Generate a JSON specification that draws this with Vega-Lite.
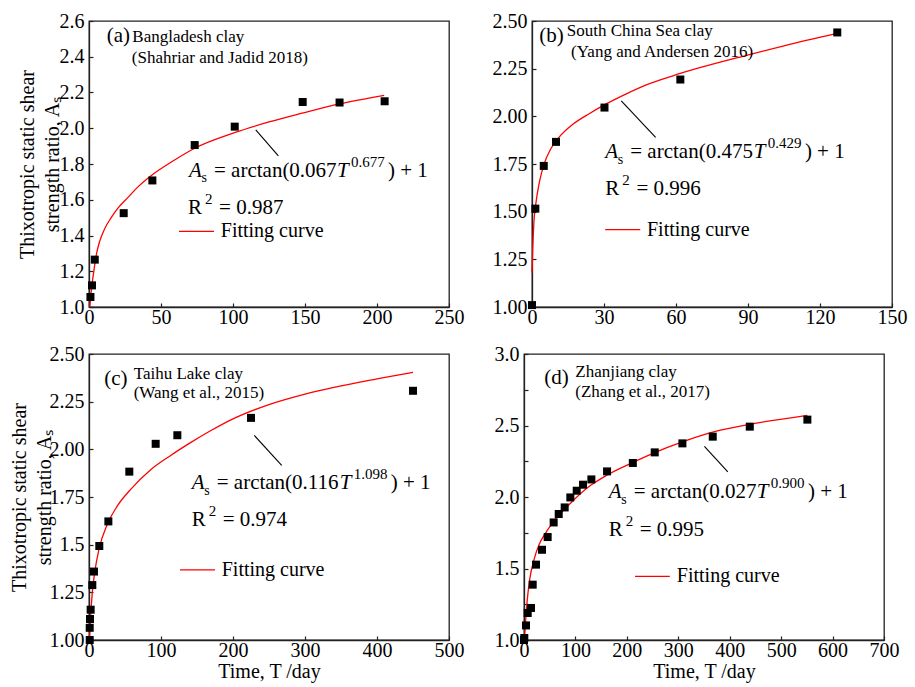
{
  "$schema": "https://vega.github.io/schema/vega-lite/v6.json",
  "padding": {"left": 8, "top": 10, "right": 5, "bottom": 5},
  "background": "white",
  "config": {
    "font": "Liberation Serif",
    "view": {"stroke": "#222222", "strokeWidth": 1.3},
    "line": {"interpolate": "monotone"},
    "axis": {
      "grid": false, "domainColor": "#222222", "domainWidth": 1.3,
      "tickColor": "#222222", "tickWidth": 1.2, "tickSize": -4,
      "labelFont": "Liberation Serif", "labelFontSize": 20, "labelColor": "black",
      "labelFlush": false, "labelOverlap": false,
      "titleFont": "Liberation Serif", "titleFontSize": 20, "titleFontWeight": "normal", "titleColor": "black",
      "titlePadding": -3, "titleLineHeight": 25
    },
    "axisX": {"labelPadding": 4},
    "axisY": {"labelPadding": 9}
  },
  "datasets": {
    "pts": [
      {"panel": "a", "T": 1.0, "A": 1.056}, {"panel": "a", "T": 2.1, "A": 1.121}, {"panel": "a", "T": 4.0, "A": 1.265},
      {"panel": "a", "T": 24.1, "A": 1.525}, {"panel": "a", "T": 44, "A": 1.708}, {"panel": "a", "T": 73.4, "A": 1.906},
      {"panel": "a", "T": 101.2, "A": 2.009}, {"panel": "a", "T": 148.4, "A": 2.147}, {"panel": "a", "T": 174, "A": 2.144},
      {"panel": "a", "T": 205.3, "A": 2.151},
      {"panel": "b", "T": 0, "A": 1.01}, {"panel": "b", "T": 1.4, "A": 1.516}, {"panel": "b", "T": 4.9, "A": 1.74},
      {"panel": "b", "T": 10, "A": 1.866}, {"panel": "b", "T": 30.2, "A": 2.046}, {"panel": "b", "T": 61.8, "A": 2.193},
      {"panel": "b", "T": 127.2, "A": 2.44},
      {"panel": "c", "T": 1, "A": 1.0}, {"panel": "c", "T": 1, "A": 1.064}, {"panel": "c", "T": 1.4, "A": 1.11},
      {"panel": "c", "T": 2.3, "A": 1.159}, {"panel": "c", "T": 4.6, "A": 1.288}, {"panel": "c", "T": 6.9, "A": 1.359},
      {"panel": "c", "T": 14.3, "A": 1.493}, {"panel": "c", "T": 26.9, "A": 1.622}, {"panel": "c", "T": 56, "A": 1.883},
      {"panel": "c", "T": 92.6, "A": 2.029}, {"panel": "c", "T": 122.7, "A": 2.074}, {"panel": "c", "T": 225, "A": 2.165},
      {"panel": "c", "T": 450, "A": 2.307},
      {"panel": "d", "T": 0, "A": 1.0}, {"panel": "d", "T": 0.6, "A": 1.014}, {"panel": "d", "T": 3.9, "A": 1.102},
      {"panel": "d", "T": 7.2, "A": 1.189}, {"panel": "d", "T": 13.6, "A": 1.224}, {"panel": "d", "T": 16.9, "A": 1.387},
      {"panel": "d", "T": 23.3, "A": 1.527}, {"panel": "d", "T": 35, "A": 1.631}, {"panel": "d", "T": 46, "A": 1.72},
      {"panel": "d", "T": 57.7, "A": 1.822}, {"panel": "d", "T": 67.5, "A": 1.881}, {"panel": "d", "T": 79.1, "A": 1.927},
      {"panel": "d", "T": 90.1, "A": 1.997}, {"panel": "d", "T": 102.5, "A": 2.044}, {"panel": "d", "T": 114.8, "A": 2.086},
      {"panel": "d", "T": 131, "A": 2.123}, {"panel": "d", "T": 161.5, "A": 2.179}, {"panel": "d", "T": 211.6, "A": 2.238},
      {"panel": "d", "T": 254.2, "A": 2.312}, {"panel": "d", "T": 308, "A": 2.375}, {"panel": "d", "T": 367, "A": 2.422},
      {"panel": "d", "T": 439, "A": 2.492}, {"panel": "d", "T": 551, "A": 2.541}
    ],
    "fit": [
      {"panel": "a", "T": 0.5, "A": 1.0}, {"panel": "a", "T": 1.2, "A": 1.06}, {"panel": "a", "T": 2.1, "A": 1.125},
      {"panel": "a", "T": 3.5, "A": 1.209}, {"panel": "a", "T": 5.1, "A": 1.293}, {"panel": "a", "T": 7.4, "A": 1.367},
      {"panel": "a", "T": 10.9, "A": 1.438}, {"panel": "a", "T": 15.5, "A": 1.501}, {"panel": "a", "T": 20.1, "A": 1.553},
      {"panel": "a", "T": 27.1, "A": 1.613}, {"panel": "a", "T": 34, "A": 1.672}, {"panel": "a", "T": 44, "A": 1.74},
      {"panel": "a", "T": 58, "A": 1.815}, {"panel": "a", "T": 73.4, "A": 1.888}, {"panel": "a", "T": 101, "A": 1.975},
      {"panel": "a", "T": 125, "A": 2.035}, {"panel": "a", "T": 148, "A": 2.084}, {"panel": "a", "T": 174, "A": 2.136},
      {"panel": "a", "T": 205, "A": 2.184},
      {"panel": "b", "T": 0, "A": 1.18}, {"panel": "b", "T": 0.3, "A": 1.306}, {"panel": "b", "T": 0.8, "A": 1.446},
      {"panel": "b", "T": 1.7, "A": 1.551}, {"panel": "b", "T": 3.1, "A": 1.656}, {"panel": "b", "T": 5.1, "A": 1.752},
      {"panel": "b", "T": 7.9, "A": 1.831}, {"panel": "b", "T": 11.4, "A": 1.892}, {"panel": "b", "T": 17, "A": 1.958},
      {"panel": "b", "T": 24, "A": 2.015}, {"panel": "b", "T": 30.9, "A": 2.065}, {"panel": "b", "T": 39.3, "A": 2.118},
      {"panel": "b", "T": 47.6, "A": 2.165}, {"panel": "b", "T": 61.8, "A": 2.225}, {"panel": "b", "T": 89.4, "A": 2.32},
      {"panel": "b", "T": 105, "A": 2.37}, {"panel": "b", "T": 127.2, "A": 2.435},
      {"panel": "c", "T": 0.5, "A": 1.0}, {"panel": "c", "T": 1, "A": 1.03}, {"panel": "c", "T": 2.3, "A": 1.127},
      {"panel": "c", "T": 4.6, "A": 1.25}, {"panel": "c", "T": 7.9, "A": 1.354}, {"panel": "c", "T": 13.9, "A": 1.476},
      {"panel": "c", "T": 25.5, "A": 1.607}, {"panel": "c", "T": 39.4, "A": 1.703}, {"panel": "c", "T": 57.9, "A": 1.79},
      {"panel": "c", "T": 85.7, "A": 1.893}, {"panel": "c", "T": 113.5, "A": 1.968}, {"panel": "c", "T": 141, "A": 2.035},
      {"panel": "c", "T": 170, "A": 2.1}, {"panel": "c", "T": 200, "A": 2.16}, {"panel": "c", "T": 250, "A": 2.235},
      {"panel": "c", "T": 300, "A": 2.29}, {"panel": "c", "T": 400, "A": 2.37}, {"panel": "c", "T": 450, "A": 2.404},
      {"panel": "d", "T": 0.6, "A": 1.0}, {"panel": "d", "T": 3.3, "A": 1.142}, {"panel": "d", "T": 6.4, "A": 1.282},
      {"panel": "d", "T": 11, "A": 1.422}, {"panel": "d", "T": 19.5, "A": 1.562}, {"panel": "d", "T": 29.2, "A": 1.666},
      {"panel": "d", "T": 42, "A": 1.748}, {"panel": "d", "T": 61.6, "A": 1.845}, {"panel": "d", "T": 90, "A": 1.955},
      {"panel": "d", "T": 131, "A": 2.085}, {"panel": "d", "T": 160, "A": 2.15}, {"panel": "d", "T": 211, "A": 2.24},
      {"panel": "d", "T": 254, "A": 2.31}, {"panel": "d", "T": 308, "A": 2.385}, {"panel": "d", "T": 374, "A": 2.46},
      {"panel": "d", "T": 439, "A": 2.508}, {"panel": "d", "T": 551, "A": 2.571}
    ],
    "lead": [
      {"panel": "a", "T": 115.8, "A": 1.991, "T2": 131.5, "A2": 1.846},
      {"panel": "b", "T": 37.2, "A": 2.081, "T2": 51.5, "A2": 1.889},
      {"panel": "c", "T": 229.6, "A": 2.073, "T2": 267.6, "A2": 1.916},
      {"panel": "d", "T": 350.8, "A": 2.354, "T2": 396.3, "A2": 2.175}
    ],
    "legl": [
      {"panel": "a", "T": 62.5, "T2": 86.8, "A": 1.423},
      {"panel": "b", "T": 30.5, "T2": 45.1, "A": 1.406},
      {"panel": "c", "T": 126.4, "T2": 175, "A": 1.368},
      {"panel": "d", "T": 216, "T2": 283.5, "A": 1.445}
    ],
    "txt": [
      {"panel": "a", "role": "reg", "T": 12.3, "A": 2.481, "label": "(a)"},
      {"panel": "a", "role": "src", "T": 30.1, "A": 2.48, "label": "Bangladesh clay"},
      {"panel": "a", "role": "src", "T": 29.7, "A": 2.363, "label": "(Shahriar and Jadid 2018)"},
      {"panel": "a", "role": "it", "T": 69.4, "A": 1.73, "label": "A"},
      {"panel": "a", "role": "sub", "T": 78.1, "A": 1.697, "label": "s"},
      {"panel": "a", "role": "reg", "T": 86.8, "A": 1.73, "label": "= arctan(0.067"},
      {"panel": "a", "role": "it", "T": 172.2, "A": 1.73, "label": "T"},
      {"panel": "a", "role": "sup", "T": 181.9, "A": 1.786, "label": "0.677"},
      {"panel": "a", "role": "reg", "T": 207.6, "A": 1.73, "label": ") + 1"},
      {"panel": "a", "role": "reg", "T": 68.75, "A": 1.522, "label": "R"},
      {"panel": "a", "role": "sup", "T": 80.6, "A": 1.578, "label": "2"},
      {"panel": "a", "role": "reg", "T": 90.3, "A": 1.522, "label": "= 0.987"},
      {"panel": "a", "role": "leg", "T": 91.5, "A": 1.423, "label": "Fitting curve"},
      {"panel": "b", "role": "reg", "T": 3.05, "A": 2.388, "label": "(b)"},
      {"panel": "b", "role": "src", "T": 14.5, "A": 2.421, "label": "South China Sea clay"},
      {"panel": "b", "role": "src", "T": 16.3, "A": 2.312, "label": "(Yang and Andersen 2016)"},
      {"panel": "b", "role": "it", "T": 30.5, "A": 1.782, "label": "A"},
      {"panel": "b", "role": "sub", "T": 35.7, "A": 1.751, "label": "s"},
      {"panel": "b", "role": "reg", "T": 40.95, "A": 1.782, "label": "= arctan(0.475"},
      {"panel": "b", "role": "it", "T": 92.35, "A": 1.782, "label": "T"},
      {"panel": "b", "role": "sup", "T": 98.2, "A": 1.835, "label": "0.429"},
      {"panel": "b", "role": "reg", "T": 113.7, "A": 1.782, "label": ") + 1"},
      {"panel": "b", "role": "reg", "T": 30.5, "A": 1.59, "label": "R"},
      {"panel": "b", "role": "sup", "T": 37.6, "A": 1.642, "label": "2"},
      {"panel": "b", "role": "reg", "T": 43.5, "A": 1.59, "label": "= 0.996"},
      {"panel": "b", "role": "leg", "T": 47.9, "A": 1.406, "label": "Fitting curve"},
      {"panel": "c", "role": "reg", "T": 21.25, "A": 2.336, "label": "(c)"},
      {"panel": "c", "role": "src", "T": 62.1, "A": 2.371, "label": "Taihu Lake clay"},
      {"panel": "c", "role": "src", "T": 62.1, "A": 2.27, "label": "(Wang et al., 2015)"},
      {"panel": "c", "role": "it", "T": 142.6, "A": 1.794, "label": "A"},
      {"panel": "c", "role": "sub", "T": 160, "A": 1.762, "label": "s"},
      {"panel": "c", "role": "reg", "T": 177.4, "A": 1.794, "label": "= arctan(0.116"},
      {"panel": "c", "role": "it", "T": 348.2, "A": 1.794, "label": "T"},
      {"panel": "c", "role": "sup", "T": 367.6, "A": 1.846, "label": "1.098"},
      {"panel": "c", "role": "reg", "T": 419.0, "A": 1.794, "label": ") + 1"},
      {"panel": "c", "role": "reg", "T": 142.6, "A": 1.598, "label": "R"},
      {"panel": "c", "role": "sup", "T": 166.3, "A": 1.65, "label": "2"},
      {"panel": "c", "role": "reg", "T": 185.7, "A": 1.598, "label": "= 0.974"},
      {"panel": "c", "role": "leg", "T": 184.3, "A": 1.368, "label": "Fitting curve"},
      {"panel": "d", "role": "reg", "T": 39.5, "A": 2.792, "label": "(d)"},
      {"panel": "d", "role": "src", "T": 99.8, "A": 2.839, "label": "Zhanjiang clay"},
      {"panel": "d", "role": "src", "T": 99.8, "A": 2.697, "label": "(Zhang et al., 2017)"},
      {"panel": "d", "role": "it", "T": 164.8, "A": 1.993, "label": "A"},
      {"panel": "d", "role": "sub", "T": 189.1, "A": 1.951, "label": "s"},
      {"panel": "d", "role": "reg", "T": 213.4, "A": 1.993, "label": "= arctan(0.027"},
      {"panel": "d", "role": "it", "T": 452.7, "A": 1.993, "label": "T"},
      {"panel": "d", "role": "sup", "T": 480, "A": 2.063, "label": "0.900"},
      {"panel": "d", "role": "reg", "T": 552.0, "A": 1.993, "label": ") + 1"},
      {"panel": "d", "role": "reg", "T": 164.8, "A": 1.729, "label": "R"},
      {"panel": "d", "role": "sup", "T": 197.9, "A": 1.799, "label": "2"},
      {"panel": "d", "role": "reg", "T": 225.1, "A": 1.729, "label": "= 0.995"},
      {"panel": "d", "role": "leg", "T": 297.1, "A": 1.445, "label": "Fitting curve"}
    ]
  },
  "vconcat": [
    {
      "hconcat": [
        {
          "width": 360, "height": 286,
          "encoding": {
            "x": {"field": "T", "type": "quantitative", "scale": {"domain": [0, 250], "nice": false, "zero": false}, "axis": {"values": [0, 50, 100, 150, 200, 250], "title": null}},
            "y": {"field": "A", "type": "quantitative", "scale": {"domain": [1, 2.6], "nice": false, "zero": false}, "axis": {"values": [1, 1.2, 1.4, 1.6, 1.8, 2.0, 2.2, 2.4, 2.6], "format": ".1f", "title": ["Thixotropic static shear", "strength ratio,  Aₛ"]}}
          },
          "layer": [
            {"data": {"name": "fit"}, "transform": [{"filter": "datum.panel == 'a'"}], "mark": {"type": "line", "color": "#ff0000", "strokeWidth": 1.3}},
            {"data": {"name": "pts"}, "transform": [{"filter": "datum.panel == 'a'"}], "mark": {"type": "square", "size": 64, "color": "black", "opacity": 1}},
            {"data": {"name": "lead"}, "transform": [{"filter": "datum.panel == 'a'"}], "mark": {"type": "rule", "color": "black", "strokeWidth": 1.1}, "encoding": {"x2": {"field": "T2"}, "y2": {"field": "A2"}}},
            {"data": {"name": "legl"}, "transform": [{"filter": "datum.panel == 'a'"}], "mark": {"type": "rule", "color": "#ff0000", "strokeWidth": 1.3}, "encoding": {"x2": {"field": "T2"}}},
            {"data": {"name": "txt"}, "transform": [{"filter": "datum.panel == 'a' && datum.role == 'reg'"}], "mark": {"type": "text", "align": "left", "baseline": "alphabetic", "font": "Liberation Serif", "fontSize": 21, "color": "black"}, "encoding": {"text": {"field": "label"}}},
            {"data": {"name": "txt"}, "transform": [{"filter": "datum.panel == 'a' && datum.role == 'src'"}], "mark": {"type": "text", "align": "left", "baseline": "alphabetic", "font": "Liberation Serif", "fontSize": 17, "color": "black"}, "encoding": {"text": {"field": "label"}}},
            {"data": {"name": "txt"}, "transform": [{"filter": "datum.panel == 'a' && datum.role == 'it'"}], "mark": {"type": "text", "align": "left", "baseline": "alphabetic", "font": "Liberation Serif", "fontSize": 21, "fontStyle": "italic", "color": "black"}, "encoding": {"text": {"field": "label"}}},
            {"data": {"name": "txt"}, "transform": [{"filter": "datum.panel == 'a' && datum.role == 'sub'"}], "mark": {"type": "text", "align": "left", "baseline": "alphabetic", "font": "Liberation Serif", "fontSize": 14, "color": "black"}, "encoding": {"text": {"field": "label"}}},
            {"data": {"name": "txt"}, "transform": [{"filter": "datum.panel == 'a' && datum.role == 'sup'"}], "mark": {"type": "text", "align": "left", "baseline": "alphabetic", "font": "Liberation Serif", "fontSize": 15, "color": "black"}, "encoding": {"text": {"field": "label"}}},
            {"data": {"name": "txt"}, "transform": [{"filter": "datum.panel == 'a' && datum.role == 'leg'"}], "mark": {"type": "text", "align": "left", "baseline": "middle", "font": "Liberation Serif", "fontSize": 20, "color": "black"}, "encoding": {"text": {"field": "label"}}}
          ]
        },
        {
          "width": 360, "height": 286,
          "encoding": {
            "x": {"field": "T", "type": "quantitative", "scale": {"domain": [0, 150], "nice": false, "zero": false}, "axis": {"values": [0, 30, 60, 90, 120, 150], "title": null}},
            "y": {"field": "A", "type": "quantitative", "scale": {"domain": [1, 2.5], "nice": false, "zero": false}, "axis": {"values": [1, 1.25, 1.5, 1.75, 2.0, 2.25, 2.5], "format": ".2f", "title": null}}
          },
          "layer": [
            {"data": {"name": "fit"}, "transform": [{"filter": "datum.panel == 'b'"}], "mark": {"type": "line", "color": "#ff0000", "strokeWidth": 1.3}},
            {"data": {"name": "pts"}, "transform": [{"filter": "datum.panel == 'b'"}], "mark": {"type": "square", "size": 64, "color": "black", "opacity": 1}},
            {"data": {"name": "lead"}, "transform": [{"filter": "datum.panel == 'b'"}], "mark": {"type": "rule", "color": "black", "strokeWidth": 1.1}, "encoding": {"x2": {"field": "T2"}, "y2": {"field": "A2"}}},
            {"data": {"name": "legl"}, "transform": [{"filter": "datum.panel == 'b'"}], "mark": {"type": "rule", "color": "#ff0000", "strokeWidth": 1.3}, "encoding": {"x2": {"field": "T2"}}},
            {"data": {"name": "txt"}, "transform": [{"filter": "datum.panel == 'b' && datum.role == 'reg'"}], "mark": {"type": "text", "align": "left", "baseline": "alphabetic", "font": "Liberation Serif", "fontSize": 21, "color": "black"}, "encoding": {"text": {"field": "label"}}},
            {"data": {"name": "txt"}, "transform": [{"filter": "datum.panel == 'b' && datum.role == 'src'"}], "mark": {"type": "text", "align": "left", "baseline": "alphabetic", "font": "Liberation Serif", "fontSize": 17, "color": "black"}, "encoding": {"text": {"field": "label"}}},
            {"data": {"name": "txt"}, "transform": [{"filter": "datum.panel == 'b' && datum.role == 'it'"}], "mark": {"type": "text", "align": "left", "baseline": "alphabetic", "font": "Liberation Serif", "fontSize": 21, "fontStyle": "italic", "color": "black"}, "encoding": {"text": {"field": "label"}}},
            {"data": {"name": "txt"}, "transform": [{"filter": "datum.panel == 'b' && datum.role == 'sub'"}], "mark": {"type": "text", "align": "left", "baseline": "alphabetic", "font": "Liberation Serif", "fontSize": 14, "color": "black"}, "encoding": {"text": {"field": "label"}}},
            {"data": {"name": "txt"}, "transform": [{"filter": "datum.panel == 'b' && datum.role == 'sup'"}], "mark": {"type": "text", "align": "left", "baseline": "alphabetic", "font": "Liberation Serif", "fontSize": 15, "color": "black"}, "encoding": {"text": {"field": "label"}}},
            {"data": {"name": "txt"}, "transform": [{"filter": "datum.panel == 'b' && datum.role == 'leg'"}], "mark": {"type": "text", "align": "left", "baseline": "middle", "font": "Liberation Serif", "fontSize": 20, "color": "black"}, "encoding": {"text": {"field": "label"}}}
          ]
        }
      ],
      "spacing": 83,
      "bounds": "flush"
    },
    {
      "hconcat": [
        {
          "width": 360, "height": 286,
          "encoding": {
            "x": {"field": "T", "type": "quantitative", "scale": {"domain": [0, 500], "nice": false, "zero": false}, "axis": {"values": [0, 100, 200, 300, 400, 500], "title": "Time, T /day", "titlePadding": 1}},
            "y": {"field": "A", "type": "quantitative", "scale": {"domain": [1, 2.5], "nice": false, "zero": false}, "axis": {"values": [1, 1.25, 1.5, 1.75, 2.0, 2.25, 2.5], "labelExpr": "datum.value == 1.5 ? '1.5' : format(datum.value, '.2f')", "titlePadding": -5, "title": ["Thixotropic static shear", "strength ratio,  Aₛ"]}}
          },
          "layer": [
            {"data": {"name": "fit"}, "transform": [{"filter": "datum.panel == 'c'"}], "mark": {"type": "line", "color": "#ff0000", "strokeWidth": 1.3}},
            {"data": {"name": "pts"}, "transform": [{"filter": "datum.panel == 'c'"}], "mark": {"type": "square", "size": 64, "color": "black", "opacity": 1}},
            {"data": {"name": "lead"}, "transform": [{"filter": "datum.panel == 'c'"}], "mark": {"type": "rule", "color": "black", "strokeWidth": 1.1}, "encoding": {"x2": {"field": "T2"}, "y2": {"field": "A2"}}},
            {"data": {"name": "legl"}, "transform": [{"filter": "datum.panel == 'c'"}], "mark": {"type": "rule", "color": "#ff0000", "strokeWidth": 1.3}, "encoding": {"x2": {"field": "T2"}}},
            {"data": {"name": "txt"}, "transform": [{"filter": "datum.panel == 'c' && datum.role == 'reg'"}], "mark": {"type": "text", "align": "left", "baseline": "alphabetic", "font": "Liberation Serif", "fontSize": 21, "color": "black"}, "encoding": {"text": {"field": "label"}}},
            {"data": {"name": "txt"}, "transform": [{"filter": "datum.panel == 'c' && datum.role == 'src'"}], "mark": {"type": "text", "align": "left", "baseline": "alphabetic", "font": "Liberation Serif", "fontSize": 17, "color": "black"}, "encoding": {"text": {"field": "label"}}},
            {"data": {"name": "txt"}, "transform": [{"filter": "datum.panel == 'c' && datum.role == 'it'"}], "mark": {"type": "text", "align": "left", "baseline": "alphabetic", "font": "Liberation Serif", "fontSize": 21, "fontStyle": "italic", "color": "black"}, "encoding": {"text": {"field": "label"}}},
            {"data": {"name": "txt"}, "transform": [{"filter": "datum.panel == 'c' && datum.role == 'sub'"}], "mark": {"type": "text", "align": "left", "baseline": "alphabetic", "font": "Liberation Serif", "fontSize": 14, "color": "black"}, "encoding": {"text": {"field": "label"}}},
            {"data": {"name": "txt"}, "transform": [{"filter": "datum.panel == 'c' && datum.role == 'sup'"}], "mark": {"type": "text", "align": "left", "baseline": "alphabetic", "font": "Liberation Serif", "fontSize": 15, "color": "black"}, "encoding": {"text": {"field": "label"}}},
            {"data": {"name": "txt"}, "transform": [{"filter": "datum.panel == 'c' && datum.role == 'leg'"}], "mark": {"type": "text", "align": "left", "baseline": "middle", "font": "Liberation Serif", "fontSize": 20, "color": "black"}, "encoding": {"text": {"field": "label"}}}
          ]
        },
        {
          "width": 360, "height": 286,
          "encoding": {
            "x": {"field": "T", "type": "quantitative", "scale": {"domain": [0, 700], "nice": false, "zero": false}, "axis": {"values": [0, 100, 200, 300, 400, 500, 600, 700], "title": "Time, T /day", "titlePadding": 1}},
            "y": {"field": "A", "type": "quantitative", "scale": {"domain": [1, 3], "nice": false, "zero": false}, "axis": {"values": [1, 1.25, 1.5, 1.75, 2.0, 2.25, 2.5, 2.75, 3.0], "labelExpr": "datum.value % 0.5 == 0 ? format(datum.value, '.1f') : ''", "title": null}}
          },
          "layer": [
            {"data": {"name": "fit"}, "transform": [{"filter": "datum.panel == 'd'"}], "mark": {"type": "line", "color": "#ff0000", "strokeWidth": 1.3}},
            {"data": {"name": "pts"}, "transform": [{"filter": "datum.panel == 'd'"}], "mark": {"type": "square", "size": 64, "color": "black", "opacity": 1}},
            {"data": {"name": "lead"}, "transform": [{"filter": "datum.panel == 'd'"}], "mark": {"type": "rule", "color": "black", "strokeWidth": 1.1}, "encoding": {"x2": {"field": "T2"}, "y2": {"field": "A2"}}},
            {"data": {"name": "legl"}, "transform": [{"filter": "datum.panel == 'd'"}], "mark": {"type": "rule", "color": "#ff0000", "strokeWidth": 1.3}, "encoding": {"x2": {"field": "T2"}}},
            {"data": {"name": "txt"}, "transform": [{"filter": "datum.panel == 'd' && datum.role == 'reg'"}], "mark": {"type": "text", "align": "left", "baseline": "alphabetic", "font": "Liberation Serif", "fontSize": 21, "color": "black"}, "encoding": {"text": {"field": "label"}}},
            {"data": {"name": "txt"}, "transform": [{"filter": "datum.panel == 'd' && datum.role == 'src'"}], "mark": {"type": "text", "align": "left", "baseline": "alphabetic", "font": "Liberation Serif", "fontSize": 17, "color": "black"}, "encoding": {"text": {"field": "label"}}},
            {"data": {"name": "txt"}, "transform": [{"filter": "datum.panel == 'd' && datum.role == 'it'"}], "mark": {"type": "text", "align": "left", "baseline": "alphabetic", "font": "Liberation Serif", "fontSize": 21, "fontStyle": "italic", "color": "black"}, "encoding": {"text": {"field": "label"}}},
            {"data": {"name": "txt"}, "transform": [{"filter": "datum.panel == 'd' && datum.role == 'sub'"}], "mark": {"type": "text", "align": "left", "baseline": "alphabetic", "font": "Liberation Serif", "fontSize": 14, "color": "black"}, "encoding": {"text": {"field": "label"}}},
            {"data": {"name": "txt"}, "transform": [{"filter": "datum.panel == 'd' && datum.role == 'sup'"}], "mark": {"type": "text", "align": "left", "baseline": "alphabetic", "font": "Liberation Serif", "fontSize": 15, "color": "black"}, "encoding": {"text": {"field": "label"}}},
            {"data": {"name": "txt"}, "transform": [{"filter": "datum.panel == 'd' && datum.role == 'leg'"}], "mark": {"type": "text", "align": "left", "baseline": "middle", "font": "Liberation Serif", "fontSize": 20, "color": "black"}, "encoding": {"text": {"field": "label"}}}
          ]
        }
      ],
      "spacing": 75,
      "bounds": "flush"
    }
  ],
  "spacing": 15
}
